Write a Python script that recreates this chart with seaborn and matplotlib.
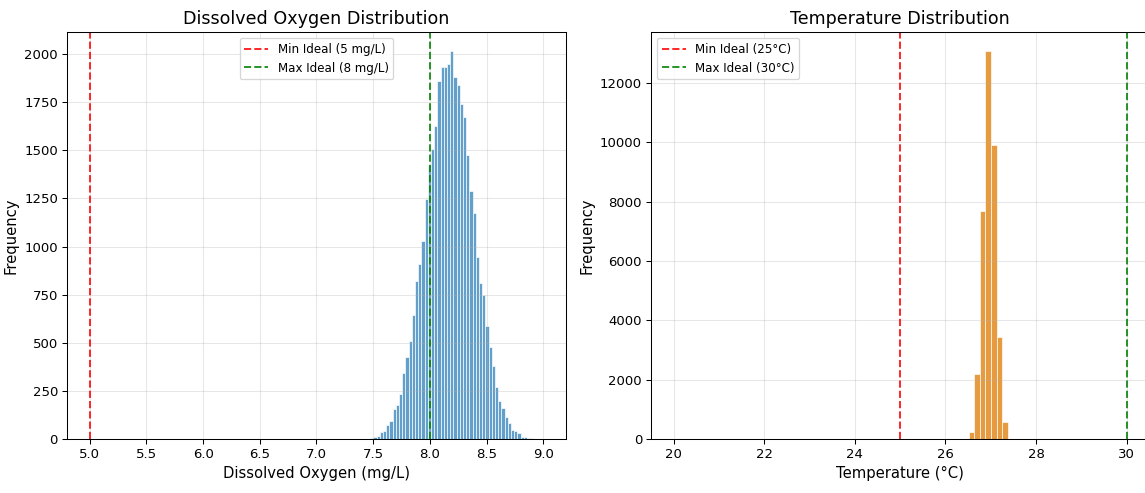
import numpy as np
import pandas as pd
import matplotlib
matplotlib.use("Agg")
import matplotlib.pyplot as plt
import seaborn as sns

# Dissolved oxygen histogram (counts)
do_first_edge = 7.474
do_bin_width = 0.0282
do_counts = [7, 9, 16, 36, 43, 73, 94, 156, 175, 233, 342, 425, 507, 646, 819,
             911, 1030, 1245, 1422, 1509, 1627, 1861, 1932, 1932, 1951, 2014,
             1879, 1839, 1740, 1675, 1474, 1288, 1176, 946, 811, 750, 589, 480,
             380, 272, 200, 160, 116, 85, 47, 40, 30, 12, 9, 5, 3, 2]

# Temperature histogram
temp_first_edge = 26.51
temp_bin_width = 0.1232
temp_counts = [247, 2187, 7674, 13073, 9905, 3425, 565]

do_min, do_max = 5, 8
temp_min, temp_max = 25, 30


def hist_table(first, width, counts):
    edges = first + width * np.arange(len(counts) + 1)
    df = pd.DataFrame({"value": edges[:-1] + width / 2, "count": counts})
    # plain list: seaborn compares bins against "auto"
    return df, edges.tolist()


plt.rcParams["xtick.labelsize"] = 10.3
plt.rcParams["ytick.labelsize"] = 10.3

fig = plt.figure(figsize=(1145 / 93, 493 / 93), dpi=93)
ax1 = fig.add_axes([0.0585, 0.1095, 0.4358, 0.8256])
# the right panel runs a few pixels past the edge of the image, as in the original crop
ax2 = fig.add_axes([0.5686, 0.1095, 0.4352, 0.8256])

# 1. Dissolved oxygen
df, edges = hist_table(do_first_edge, do_bin_width, do_counts)
sns.histplot(data=df, x="value", weights="count", bins=edges, ax=ax1,
             color="#1f77b4", alpha=0.7, edgecolor="white", linewidth=0.5)
ax1.axvline(do_min, color="red", linestyle="--", alpha=0.85, linewidth=1.5,
            label=f"Min Ideal ({do_min} mg/L)")
ax1.axvline(do_max, color="green", linestyle="--", alpha=0.85, linewidth=1.5,
            label=f"Max Ideal ({do_max} mg/L)")
ax1.set_xlim(4.8, 9.2)
ax1.set_title("Dissolved Oxygen Distribution", fontsize=13.5)
ax1.set_xlabel("Dissolved Oxygen (mg/L)", fontsize=11.4)
ax1.set_ylabel("Frequency", fontsize=11.4)
ax1.legend(loc="upper center", fontsize=9.2)
ax1.grid(True, alpha=0.3)

# 2. Temperature
df, edges = hist_table(temp_first_edge, temp_bin_width, temp_counts)
sns.histplot(data=df, x="value", weights="count", bins=edges, ax=ax2,
             color="#e38a1e", alpha=0.85, edgecolor="white", linewidth=0.5)
ax2.axvline(temp_min, color="red", linestyle="--", alpha=0.85, linewidth=1.5,
            label=f"Min Ideal ({temp_min}°C)")
ax2.axvline(temp_max, color="green", linestyle="--", alpha=0.85, linewidth=1.5,
            label=f"Max Ideal ({temp_max}°C)")
ax2.set_xlim(19.5, 30.5)
ax2.set_title("Temperature Distribution", fontsize=13.5)
ax2.set_xlabel("Temperature (°C)", fontsize=11.4)
ax2.set_ylabel("Frequency", fontsize=11.4)
ax2.legend(loc="upper left", fontsize=9.2)
ax2.grid(True, alpha=0.3)

fig.savefig("out.png", dpi=93)
